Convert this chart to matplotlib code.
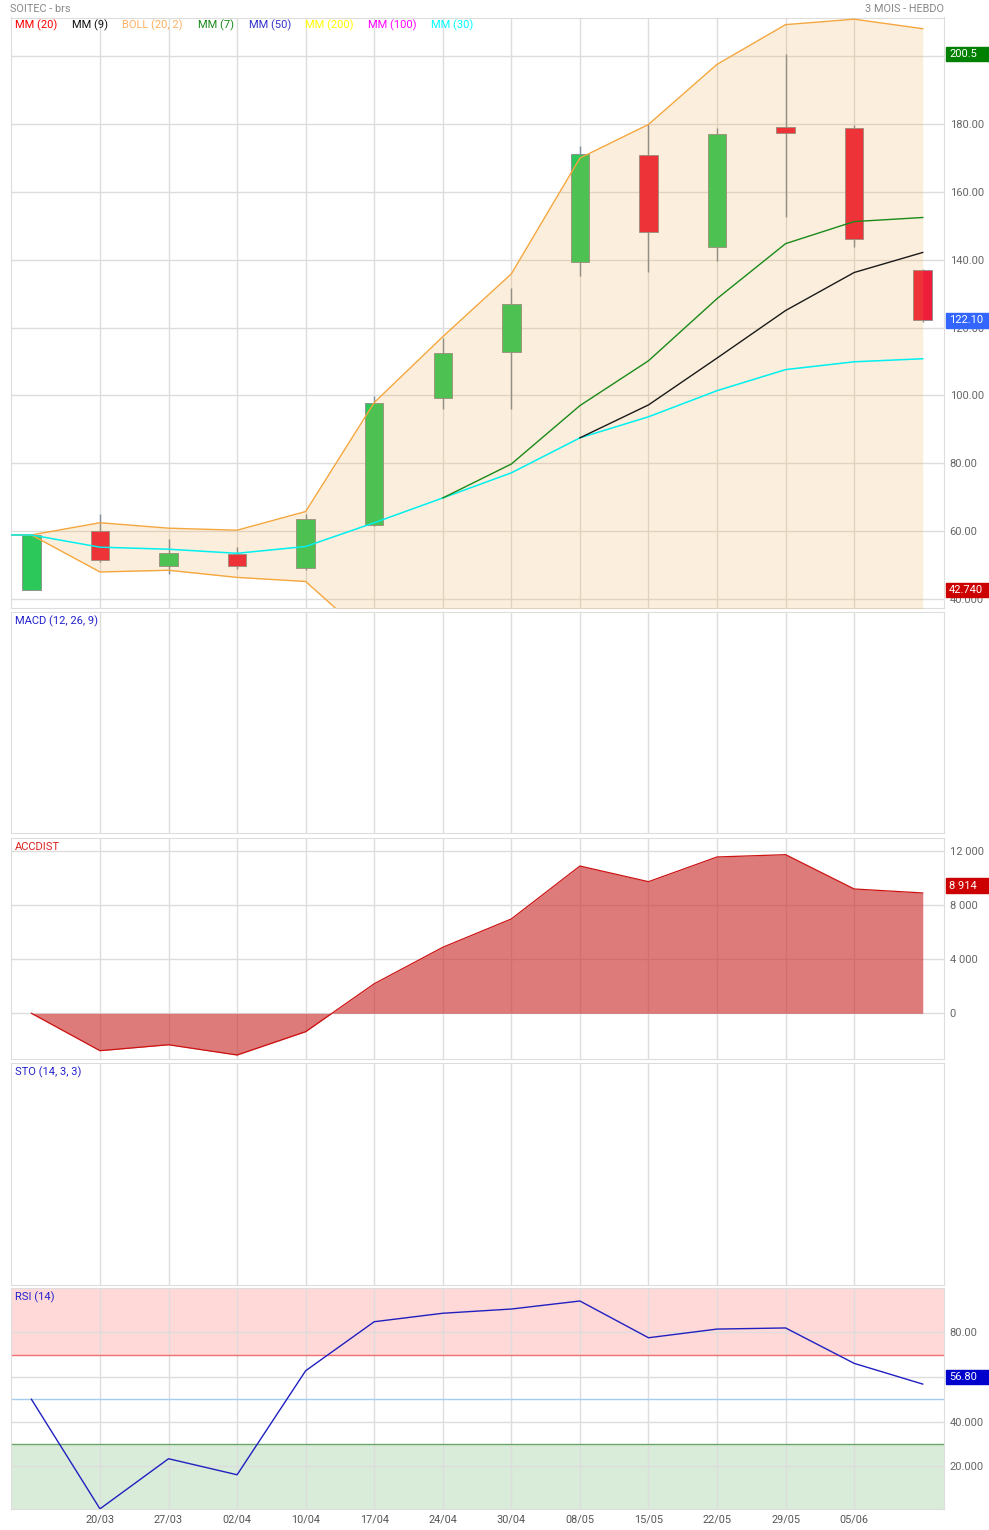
import numpy as np
import matplotlib.pyplot as plt
from matplotlib.patches import Rectangle

plt.rcParams['font.family'] = ['Roboto', 'DejaVu Sans']

# ---- data (weekly candles, index 0..13) ----
dates = ['20/03', '27/03', '02/04', '10/04', '17/04', '24/04', '30/04',
         '08/05', '15/05', '22/05', '29/05', '05/06']
opens = [42.74, 60.1, 49.8, 53.4, 49.2, 61.8, 99.3, 112.9, 139.3, 170.9, 143.6, 179.1, 178.7, 137.0]
highs = [58.9, 65.2, 57.8, 55.3, 65.2, 99.9, 117.0, 131.7, 173.6, 179.8, 178.9, 200.5, 179.5, 137.3]
lows = [42.74, 51.0, 47.5, 48.9, 48.5, 61.5, 96.0, 96.0, 135.2, 136.3, 139.5, 152.5, 143.8, 121.6]
closes = [58.9, 51.6, 53.6, 49.8, 63.6, 97.8, 112.6, 127.0, 171.2, 148.0, 177.1, 177.4, 146.2, 122.1]

# line series start one week earlier (index -1) so they run into the left edge
boll_upper = [58.9, 58.9, 62.5, 60.9, 60.3, 65.8, 97.9, 117.3, 135.8, 169.9, 179.8, 197.5, 209.2, 210.8, 208.0]
boll_lower = [58.9, 58.9, 48.0, 48.5, 46.4, 45.2, 27.1, 22.1, 17.8, 4.7, 7.0, 4.5, 5.6, 9.8, 14.4]
mm30 = [58.9, 58.9, 55.3, 54.7, 53.5, 55.5, 62.5, 69.8, 77.2, 87.5, 93.7, 101.4, 107.6, 109.9, 110.8]
mm7 = [np.nan] * 7 + [69.8, 79.8, 97.0, 110.2, 128.5, 144.7, 151.2, 152.4]
mm9 = [np.nan] * 9 + [87.5, 97.2, 111.0, 125.0, 136.2, 142.1]

accdist = [0, -2770, -2330, -3090, -1360, 2190, 4890, 6990, 10910, 9750, 11580, 11750, 9210, 8914]
rsi = [50.0, 0.8, 23.3, 16.1, 62.8, 84.8, 88.6, 90.5, 94.1, 77.6, 81.5, 82.0, 66.1, 56.8]

weeks = np.arange(len(closes))
weeks_ext = np.arange(-1, len(closes))

W, H = 989, 1530
fig = plt.figure(figsize=(W / 100, H / 100), dpi=100)

GRID = '#dddddd'
LABEL = '#666666'


def panel(top, bottom):
    ax = fig.add_axes([10.7 / W, 1 - bottom / H, (944 - 10.7) / W, (bottom - top) / H])
    ax.set_xlim(-0.302, 13.31)
    ax.set_xticks(range(1, 13))
    ax.set_xticklabels([])
    ax.grid(axis='x', color=GRID, lw=1, zorder=0)
    ax.set_axisbelow(True)
    ax.yaxis.tick_right()
    ax.tick_params(length=0, labelsize=8, labelcolor=LABEL, pad=4)
    for s in ax.spines.values():
        s.set_color(GRID)
    return ax


def add_tag(ax, value, text, color, anchor='center'):
    ypix = ax.transData.transform((0, value))[1]
    h = 14.5
    y0 = ypix - h / 2 if anchor == 'center' else ypix
    fig.patches.append(Rectangle((946 / W, y0 / H), 43 / W, h / H,
                                 transform=fig.transFigure, color=color, zorder=10))
    fig.text(949 / W, (y0 + h / 2) / H, text, color='white', fontsize=8,
             va='center', ha='left', zorder=11)


# ---- main price panel ----
ax = panel(17.5, 608.3)
ax.set_ylim(37.3, 211.3)
ax.set_yticks(range(40, 201, 20))
ax.set_yticklabels(['40.000', '60.00', '80.00', '100.00', '120.00', '140.00',
                    '160.00', '180.00', ''])  # 200 label sits under the high tag
ax.grid(axis='y', color=GRID, lw=1, zorder=0)

up_col, down_col = '#2dc85a', '#ee1e3a'
for i in weeks:
    o, c = opens[i], closes[i]
    col = up_col if c >= o else down_col
    ax.vlines(i, lows[i], highs[i], color='#7f8c99', lw=1, zorder=2)
    ax.bar(i, abs(c - o), bottom=min(o, c), width=0.27, color=col,
           edgecolor='#8a8a8a', linewidth=0.6, zorder=2)

ax.fill_between(weeks_ext, boll_lower, boll_upper, color='#f0a030', alpha=0.17,
                lw=0, zorder=3)
ax.plot(weeks_ext, boll_upper, color='#f5a63c', lw=1, zorder=4)
ax.plot(weeks_ext, boll_lower, color='#f5a63c', lw=1, zorder=4)
ax.plot(weeks_ext, mm30, color='#00f0f0', lw=1.1, zorder=5)
ax.plot(weeks_ext, mm7, color='#1a8a1a', lw=1, zorder=5)
ax.plot(weeks_ext, mm9, color='#1a1a1a', lw=1, zorder=5)

legend = [('MM (20)', '#ff0000', 15), ('MM (9)', '#111111', 72),
          ('BOLL (20, 2)', '#ffb060', 122), ('MM (7)', '#1a8a1a', 198),
          ('MM (50)', '#3333cc', 249), ('MM (200)', '#ffff00', 305),
          ('MM (100)', '#ff00ff', 368), ('MM (30)', '#00ffff', 431)]
for txt, col, x in legend:
    fig.text(x / W, 1 - 25 / H, txt, color=col, fontsize=8, va='center')
fig.text(10 / W, 1 - 8.5 / H, 'SOITEC - brs', color='#888888', fontsize=7.8, va='center')
fig.text(944 / W, 1 - 8.5 / H, '3 MOIS - HEBDO', color='#888888', fontsize=7.8,
         va='center', ha='right')

add_tag(ax, 200.5, '200.5', '#008000')
add_tag(ax, 122.1, '122.10', '#3366ff')
add_tag(ax, 42.74, '42.740', '#cc0000')

# ---- MACD (empty) ----
ax_macd = panel(612.3, 833.5)
ax_macd.set_yticks([])
ax_macd.text(4.5 / 934, 1 - 9 / 221, 'MACD (12, 26, 9)', transform=ax_macd.transAxes,
             color='#2222cc', fontsize=8, va='center')

# ---- ACCDIST ----
ax_acc = panel(838.3, 1059)
ax_acc.set_ylim(-3385, 12963)
ax_acc.set_yticks([0, 4000, 8000, 12000])
ax_acc.set_yticklabels(['0', '4 000', '8 000', '12 000'])
ax_acc.grid(axis='y', color=GRID, lw=1, zorder=0)
ax_acc.fill_between(weeks, 0, accdist, color='#cc3333', alpha=0.65, lw=0, zorder=2)
ax_acc.plot(weeks, accdist, color='#cc1111', lw=0.9, zorder=3)
ax_acc.text(4.5 / 934, 1 - 9 / 221, 'ACCDIST', transform=ax_acc.transAxes,
            color='#dd2222', fontsize=8, va='center')
add_tag(ax_acc, 8914, '8 914', '#cc0000', anchor='bottom')

# ---- STO (empty) ----
ax_sto = panel(1063, 1284.5)
ax_sto.set_yticks([])
ax_sto.text(4.5 / 934, 1 - 9 / 221, 'STO (14, 3, 3)', transform=ax_sto.transAxes,
            color='#2222cc', fontsize=8, va='center')

# ---- RSI ----
ax_rsi = panel(1288.3, 1509.3)
ax_rsi.set_ylim(0.6, 99.8)
ax_rsi.set_yticks([20, 40, 60, 80])
ax_rsi.set_yticklabels(['20.000', '40.000', '', '80.00'])  # 60 hidden under tag
ax_rsi.grid(axis='y', color=GRID, lw=1, zorder=0)
ax_rsi.axhspan(70, 100, color='#ffd8d8', lw=0, zorder=0.5)
ax_rsi.axhspan(0, 30, color='#d9ebd9', lw=0, zorder=0.5)
ax_rsi.axhline(70, color='#ee7070', lw=1, zorder=1)
ax_rsi.axhline(50, color='#a6ccf0', lw=1, zorder=1)
ax_rsi.axhline(30, color='#6aa86a', lw=1, zorder=1)
ax_rsi.plot(weeks, rsi, color='#2020c0', lw=1, zorder=3)
ax_rsi.text(4.5 / 934, 1 - 9 / 221, 'RSI (14)', transform=ax_rsi.transAxes,
            color='#2222cc', fontsize=8, va='center')
ax_rsi.set_xticklabels(dates, fontsize=7.8, color='#555555',
                       family=['Liberation Sans Narrow', 'Roboto'])
ax_rsi.tick_params(axis='x', pad=4)
add_tag(ax_rsi, 56.8, '56.80', '#0000cc', anchor='bottom')

fig.savefig('out.png', dpi=100)
